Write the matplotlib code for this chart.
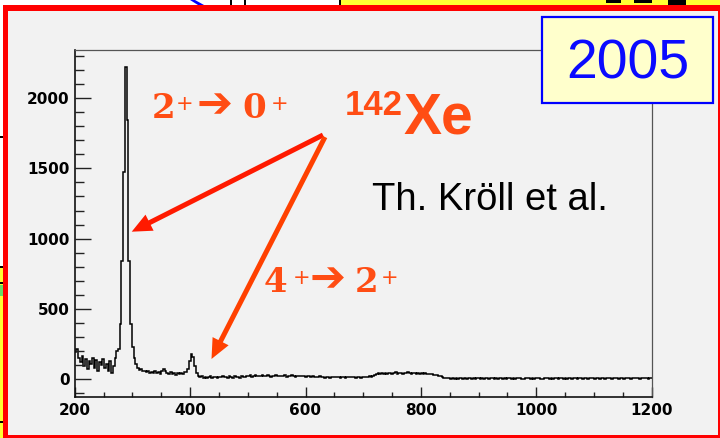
import numpy as np
import matplotlib
matplotlib.use("Agg")
import matplotlib.pyplot as plt
from matplotlib.patches import Rectangle, FancyArrow, Polygon
from matplotlib.transforms import Affine2D
from matplotlib.ticker import MultipleLocator

# ---------------- data ----------------
energy_start = 200      # keV, lower edge of first bin
bin_width = 3           # keV
counts = [
    # 200 - 272 keV
    190, 215, 150, 120, 165, 95, 140, 70, 125, 105, 150, 80,
    135, 60, 120, 100, 145, 75, 110, 55, 125, 40, 95, 150,
    # 272 - 299 keV  (2+ -> 0+ peak)
    200, 215, 393, 843, 1475, 2224, 1844, 843, 392,
    # 299 - 395 keV
    230, 150, 105, 80, 65, 72, 55, 60, 48, 58, 45, 52, 40, 55, 42, 50,
    38, 60, 72, 58, 45, 38, 48, 35, 42, 30, 40, 35, 45, 38, 52, 48,
    # 395 - 419 keV  (4+ -> 2+ peak)
    70, 125, 178, 160, 90, 40, 22, 12,
    # 419 - 500 keV
    18, 10, 15, 6, 14, 20, 9, 16, 12, 8, 17, 13, 22, 11, 15, 7, 18, 14,
    10, 19, 13, 16, 9, 21, 15, 12, 18,
    # 500 - 620 keV
    20, 26, 17, 24, 30, 19, 25, 22, 28, 18, 23, 27, 21, 16, 25, 20, 29, 22,
    18, 24, 21, 26, 17, 23, 19, 27, 22, 15, 24, 20, 18, 25, 21, 16, 22, 19,
    14, 20, 17, 15,
    # 620 - 722 keV
    14, 18, 12, 16, 10, 15, 13, 9, 17, 12, 14, 11, 16, 10, 13, 15, 9, 14,
    12, 17, 11, 13, 10, 15, 12, 9, 14, 16, 11, 13, 18, 15, 22, 28,
    # 722 - 830 keV
    34, 40, 36, 44, 38, 42, 35, 46, 40, 37, 43, 48, 39, 45, 41, 36, 44, 40,
    47, 42, 38, 45, 41, 36, 43, 39, 44, 37, 41, 35, 38, 33, 36, 30, 32, 27,
    # 830 - 1202 keV
    22, 18, 12, 9, 7, 5,
    4, 2, 6, 3, 5, 1, 4, 7, 3, 5, 2, 6, 4, 3, 8, 2, 5, 4, 1, 6, 3, 5, 7, 2,
    4, 6, 3, 5, 2, 4, 8, 3, 5, 1, 6, 4, 3, 7, 2, 5, 4, 6, 3, 2, 5, 7, 4, 3,
    6, 2, 5, 4, 8, 3, 1, 5, 4, 6, 3, 5, 2, 7, 4, 3, 5, 6, 2, 4, 3, 5, 4, 3,
    4, 5, 3, 4, 4, 3, 5, 4, 3, 4, 5, 4, 3, 4, 4, 3, 5, 4, 3, 4, 6, 4, 3, 5,
    8, 4, 3, 5, 4, 3, 4, 5, 6, 3, 7, 4, 5, 6, 3, 5, 4, 8, 5, 3, 6, 4,
]
x_major_ticks = [200, 400, 600, 800, 1000, 1200]
y_major_ticks = [0, 500, 1000, 1500, 2000]

edges = energy_start + bin_width * np.arange(len(counts) + 1)

# ---------------- figure ----------------
W, H = 720, 438
fig = plt.figure(figsize=(W / 100, H / 100), dpi=100)
fig.patch.set_facecolor("white")
# pixel coordinates, origin top-left
px = Affine2D().scale(0.01, -0.01).translate(0, H / 100) + fig.dpi_scale_trans


def rect(x0, y0, x1, y1, color, z=-5, **kw):
    fig.add_artist(Rectangle((x0, y0), x1 - x0, y1 - y0, transform=px,
                             facecolor=color, edgecolor="none", zorder=z, **kw))


# surrounding slide fragments
rect(339, 0, 720, 5, "#ffff33")
rect(339, 0, 341, 5, "black")
rect(606, 0, 621, 3, "black")
rect(634, 0, 652, 3, "black")
rect(668, 0, 686, 5, "black")
rect(230, 0, 232, 5, "black")
rect(244, 0, 246, 5, "black")
fig.add_artist(Polygon([(190, 0), (195, 0), (204, 5), (198, 5)], closed=True,
                       transform=px, facecolor="#0000ff", edgecolor="none", zorder=-5))
rect(0, 267, 3.3, 438, "#ffff33")
rect(0, 136, 3.3, 137.5, "black")
rect(0, 266, 3.3, 268, "black")
rect(0, 282, 3.3, 284, "black")
rect(0, 285, 3.3, 296, "#66dd66")
rect(0, 421, 3.3, 423, "black")

# red frame + grey pad
rect(3.3, 5, 720, 438, "#ff0000", z=-4)
rect(8.3, 10.7, 718, 435, "#f2f2f2", z=-3)

# ---------------- axes ----------------
L, R, T, B = 74.7, 651.7, 50, 397
ax = fig.add_axes([L / W, 1 - B / H, (R - L) / W, (B - T) / H])
ax.set_facecolor("#f2f2f2")
ax.stairs(counts, edges, baseline=None, color="black", lw=1.1)
ax.set_xlim(200, 1200)
ax.set_ylim(-128, 2343)

ax.set_xticks(x_major_ticks)
ax.set_yticks(y_major_ticks)
ax.xaxis.set_minor_locator(MultipleLocator(50))
ax.yaxis.set_minor_locator(MultipleLocator(100))
tick_col = "#222222"
ax.tick_params(axis="x", which="major", direction="in", length=7, width=1,
               pad=4, color=tick_col, labelsize=11)
ax.tick_params(axis="x", which="minor", direction="in", length=3.6, width=1,
               color=tick_col)
ax.tick_params(axis="y", which="major", direction="in", length=11.5, width=1,
               pad=3.5, color=tick_col, labelsize=11)
ax.tick_params(axis="y", which="minor", direction="in", length=6.8, width=1,
               color=tick_col)
for lbl in ax.get_xticklabels() + ax.get_yticklabels():
    lbl.set_fontweight("bold")
    lbl.set_family("DejaVu Sans")

for s in ("left", "bottom"):
    ax.spines[s].set_color("#111111")
    ax.spines[s].set_linewidth(1.2)
for s in ("top", "right"):
    ax.spines[s].set_color("#555555")
    ax.spines[s].set_linewidth(0.9)

# ---------------- annotations ----------------
orange = "#ff4d14"


def t(x, y, s, size, color, family="DejaVu Sans", weight="normal",
      ha="left", va="baseline", z=6):
    fig.text(x, y, s, transform=px, fontsize=size, color=color,
             family=family, weight=weight, ha=ha, va=va, zorder=z)


# 2+ -> 0+
t(152, 118.3, "2", 24.5, orange, "DejaVu Serif", "bold")
t(175.5, 103.5, "+", 15, orange, va="center")
t(197, 105, "\u2794", 31, orange, weight="bold", va="center")
t(242, 118.3, "0", 24.5, orange, "DejaVu Serif", "bold")
t(270.5, 103.5, "+", 15, orange, va="center")

# 4+ -> 2+
t(264, 292.5, "4", 24.5, orange, "DejaVu Serif", "bold")
t(292.5, 278, "+", 15, orange, va="center")
t(310, 279, "\u2794", 31, orange, weight="bold", va="center")
t(355, 292.5, "2", 24.5, orange, "DejaVu Serif", "bold")
t(380.5, 278, "+", 15, orange, va="center")

# 142Xe
t(345, 115, "142", 25, orange, "Liberation Sans", "bold")
t(404, 133, "Xe", 41, orange, "Liberation Sans", "bold")

# author
t(372, 210, "Th. Kröll et al.", 27.5, "black", "Liberation Sans")

# arrows
fig.add_artist(FancyArrow(323, 135, 131.7 - 323, 231.7 - 135, width=5,
                          head_width=18, head_length=20,
                          length_includes_head=True, transform=px,
                          facecolor="#ff1a00", edgecolor="none", zorder=5))
fig.add_artist(FancyArrow(325, 137, 211.5 - 325, 359 - 137, width=5,
                          head_width=18, head_length=20,
                          length_includes_head=True, transform=px,
                          facecolor="#ff4000", edgecolor="none", zorder=5))

# year box
fig.add_artist(Rectangle((541.7, 17.3), 713 - 541.7, 103.3 - 17.3, transform=px,
                         facecolor="#ffffcc", edgecolor="#0000ff", lw=1.6,
                         zorder=7))
t(628, 78.3, "2005", 40, "#0a0aff", "Liberation Sans", ha="center", z=8)

fig.savefig("out.png", dpi=100)
